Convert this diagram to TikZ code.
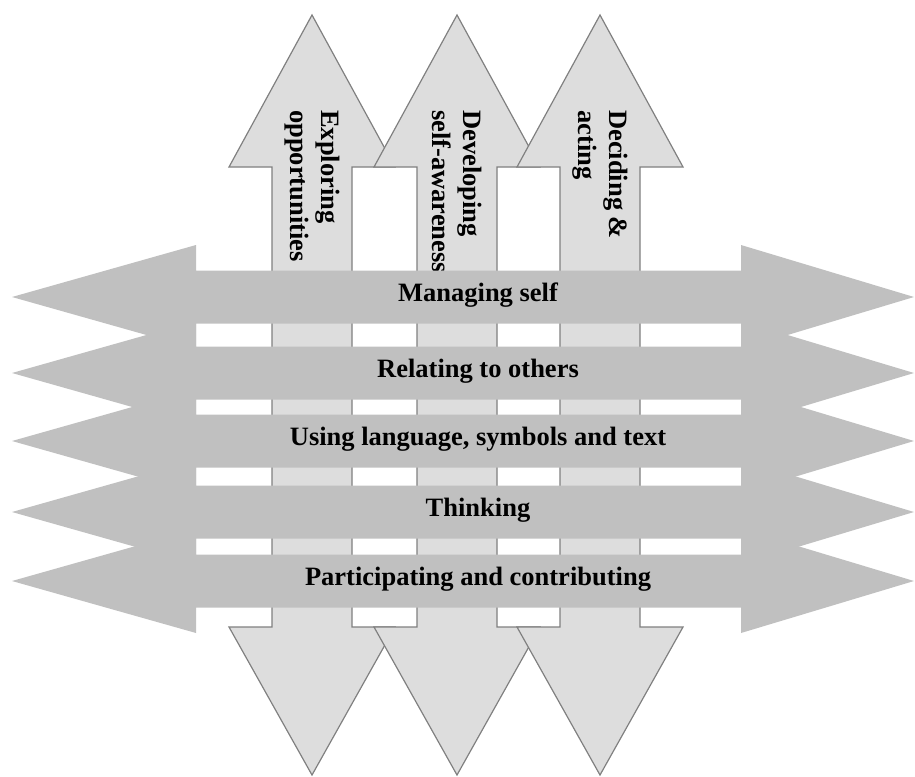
\documentclass[tikz,border=0pt]{standalone}
\usepackage{fontspec}
\setmainfont{Liberation Serif}
\definecolor{hgrey}{RGB}{192,192,192}
\definecolor{vgrey}{RGB}{221,221,221}
\definecolor{edgegrey}{RGB}{128,128,128}
\tikzstyle{harrow}=[fill=hgrey, draw=none]
\tikzstyle{varrow}=[fill=vgrey, draw=edgegrey, line width=1.2pt, line join=miter]
\tikzstyle{hlabel}=[anchor=base, inner sep=0pt, font=\fontsize{26.5}{31}\selectfont\bfseries]
\tikzstyle{vlabel}=[rotate=-90, anchor=west, align=left, inner sep=0pt, font=\fontsize{26.5}{31}\selectfont\bfseries]

\begin{document}
\begin{tikzpicture}[x=1pt,y=-1pt]
  \useasboundingbox (0,0) rectangle (915,776);
  % vertical double arrows
  \foreach \cx in {312,457,600}{
    \draw[varrow] (\cx,15) -- ++(83,152) -- ++(-43,0) -- ++(0,460) -- ++(43,0)
      -- (\cx,775) -- ++(-83,-148) -- ++(43,0) -- ++(0,-460) -- ++(-43,0) -- cycle;
  }
  \node[vlabel] (explore) at (312,110) {Exploring\\opportunities};
  \node[vlabel] (develop) at (457,110) {Developing\\self-awareness};
  \node[vlabel] (decide) at (600,110) {Deciding \&\\acting};

  % horizontal double arrows
  \foreach \cy/\name/\txt in {297/manage/Managing self,
                              373/relate/Relating to others,
                              441/language/{Using language, symbols and text},
                              512/think/Thinking,
                              581/partake/Participating and contributing}{
    \fill[harrow] (12,\cy) -- ++(184,-52) -- ++(0,25.5) -- ++(545,0) -- ++(0,-25.5)
      -- (914,\cy) -- ++(-173,52) -- ++(0,-25.5) -- ++(-545,0) -- ++(0,25.5) -- cycle;
    \node[hlabel] (\name) at (478,\cy+4) {\txt};
  }
\end{tikzpicture}
\end{document}
